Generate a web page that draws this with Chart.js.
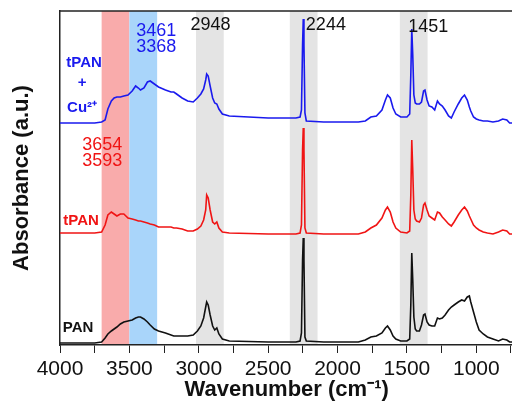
<!DOCTYPE html>
<html>
<head>
<title>FTIR PAN / tPAN / tPAN+Cu</title>
<script src="https://cdn.jsdelivr.net/npm/chart.js"></script>
<style>
html, body { margin: 0; padding: 0; background: #fff; overflow: hidden; }
</style>
</head>
<body>
<canvas id="ftir" width="515" height="405"></canvas>

<script>
// wavenumbers (cm-1), shared by the three spectra
var wavenumber = [4000, 3750, 3700, 3675, 3655, 3630, 3610, 3590, 3565, 3540,
  3510, 3480, 3455, 3435, 3420, 3395, 3370, 3350, 3320, 3290,
  3240, 3200, 3180, 3160, 3120, 3080, 3040, 3010, 2985, 2965,
  2950, 2943, 2932, 2918, 2900, 2885, 2870, 2855, 2830, 2780,
  2500, 2300, 2270, 2260, 2252, 2247, 2242, 2235, 2225, 2100,
  1850, 1800, 1760, 1720, 1680, 1655, 1640, 1620, 1600, 1580,
  1545, 1500, 1480, 1472, 1465, 1458, 1450, 1440, 1430, 1410,
  1395, 1380, 1370, 1355, 1340, 1320, 1300, 1280, 1265, 1245,
  1225, 1200, 1180, 1160, 1130, 1105, 1085, 1065, 1050, 1040,
  1020, 1000, 980, 950, 920, 880, 840, 810, 780, 760,
  733];

// absorbance (a.u., stacked with offsets as in the figure)
var tpanCu = [222, 222, 223, 225, 236, 244, 247, 248, 248, 249,
  250, 254, 259, 257, 255, 257, 263, 264, 261, 258,
  255, 253, 253, 251, 247, 244, 243, 247, 251, 256,
  265, 271, 269, 259, 247, 242, 241, 236, 231, 229,
  227, 227, 228, 235, 300, 326, 300, 232, 224, 223,
  223, 224, 228, 229, 235, 245, 250, 247, 237, 231,
  228, 228, 231, 270, 316, 290, 250, 242, 241, 241,
  243, 254, 255, 245, 239, 238, 235, 244, 241, 239,
  235, 229, 227, 233, 241, 247, 250, 245, 238, 234,
  228, 226, 225, 224, 224, 223, 224, 226, 225, 222,
  222];

var tpan = [112, 112, 113, 120, 130, 133, 131, 129, 131, 131,
  127, 126, 125, 124, 124, 123, 122, 121, 120, 118,
  118, 118, 117, 117, 116, 114, 114, 116, 119, 125,
  135, 150, 147, 135, 123, 121, 123, 117, 113, 112,
  111, 111, 112, 120, 195, 217, 195, 117, 112, 111,
  111, 113, 117, 120, 127, 135, 138, 133, 123, 117,
  113, 112, 114, 150, 205, 175, 135, 126, 124, 123,
  127, 140, 142, 135, 129, 127, 125, 133, 132, 128,
  125, 121, 119, 123, 130, 135, 138, 134, 129, 126,
  120, 117, 115, 113, 112, 111, 113, 115, 114, 111,
  111];

var pan = [2, 2, 3, 7, 11, 14, 16, 18, 21, 23,
  24, 25, 27, 28, 28, 26, 23, 20, 16, 14,
  12, 10, 9, 9, 9, 9, 10, 14, 19, 27,
  38, 43, 40, 30, 19, 15, 17, 11, 6, 4,
  3, 3, 4, 12, 85, 107, 85, 8, 4, 3,
  3, 5, 8, 9, 12, 17, 19, 15, 9, 6,
  4, 4, 6, 40, 92, 65, 28, 16, 14, 14,
  20, 30, 31, 23, 20, 19, 19, 27, 26, 27,
  30, 35, 38, 40, 43, 45, 44, 48, 49, 43,
  33, 23, 15, 11, 8, 6, 4, 6, 5, 3,
  3];

// x axis ticks: every 250, labelled every 500
var xTicks = [4000, 3750, 3500, 3250, 3000, 2750, 2500, 2250, 2000, 1750, 1500, 1250, 1000, 750];
var xTickLabels = ['4000', '', '3500', '', '3000', '', '2500', '', '2000', '', '1500', '', '1000', ''];

// highlighted regions (cm-1)
var bandFrom = [3700, 3500, 3020, 2344, 1551];
var bandTo   = [3500, 3300, 2820, 2144, 1351];
var bandColor = ['#f9abab', '#a9d5fa', '#e4e4e4', '#e4e4e4', '#e4e4e4'];

// annotation texts
var noteText = ['tPAN', '+', 'Cu\u00B2\u207A', '3461', '3368', '2948', '2244', '1451', '3654', '3593', 'tPAN', 'PAN'];

function pts(ys) {
  return wavenumber.map(function (w, i) { return { x: w, y: ys[i] }; });
}

var bandsPlugin = {
  id: 'bands',
  beforeDraw: function (chart) {
    var c = chart.ctx, a = chart.chartArea, xs = chart.scales.x;
    c.save();
    c.fillStyle = '#fff';
    c.fillRect(0, 0, chart.width, chart.height);
    for (var i = 0; i < bandFrom.length; i++) {
      var x1 = xs.getPixelForValue(bandFrom[i]);
      var x2 = xs.getPixelForValue(bandTo[i]);
      c.fillStyle = bandColor[i];
      c.fillRect(x1, a.top, x2 - x1, a.bottom - a.top);
    }
    c.restore();
  },
  afterDraw: function (chart) {
    var c = chart.ctx, a = chart.chartArea;
    c.save();
    c.strokeStyle = '#222';
    c.lineWidth = 1.5;
    c.beginPath();
    c.moveTo(a.left, a.top);
    c.lineTo(chart.width, a.top);
    c.stroke();
    c.restore();
  }
};

// where each note sits, in data units (wavenumber, absorbance)
var notePos = [[3826, 282], [3841, 262], [3841, 237], [3306, 314], [3306, 298],
  [2916, 320], [2084, 320], [1347, 318], [3696, 200], [3696, 184], [3848, 124], [3870, 17]];
var noteColor = ['#1a1aee', '#1a1aee', '#1a1aee', '#1a1aee', '#1a1aee',
  '#111', '#111', '#111', '#f01414', '#f01414', '#f01414', '#111'];
var noteFont = ['bold 15px Arial', 'bold 15px Arial', 'bold 15px Arial', '18px Arial', '18px Arial',
  '18px Arial', '18px Arial', '18px Arial', '18px Arial', '18px Arial', 'bold 15px Arial', 'bold 15px Arial'];

var notesPlugin = {
  id: 'notes',
  afterDatasetsDraw: function (chart) {
    var c = chart.ctx, xs = chart.scales.x, ys = chart.scales.y;
    c.save();
    c.textAlign = 'center';
    c.textBaseline = 'middle';
    for (var i = 0; i < noteText.length; i++) {
      c.font = noteFont[i];
      c.fillStyle = noteColor[i];
      c.fillText(noteText[i], xs.getPixelForValue(notePos[i][0]), ys.getPixelForValue(notePos[i][1]));
    }
    c.restore();
  }
};

var ctx = document.getElementById('ftir').getContext('2d');
var chart = new Chart(ctx, {
  type: 'line',
  data: {
    datasets: [
      { label: 'tPAN + Cu2+', data: pts(tpanCu), borderColor: '#1a1aee', borderWidth: 1.6 },
      { label: 'tPAN', data: pts(tpan), borderColor: '#f01414', borderWidth: 1.6 },
      { label: 'PAN', data: pts(pan), borderColor: '#111', borderWidth: 1.6 }
    ]
  },
  options: {
    responsive: false,
    animation: false,
    layout: { padding: { top: 11, right: 0, left: 0, bottom: 0 } },
    elements: { point: { radius: 0 }, line: { tension: 0, fill: false } },
    plugins: { legend: { display: false }, tooltip: { enabled: false } },
    scales: {
      x: {
        type: 'linear',
        reverse: true,
        min: 733,
        max: 4000,
        afterFit: function (s) { s.height = 60; },
        afterBuildTicks: function (s) {
          s.ticks = xTicks.map(function (v) { return { value: v }; });
        },
        border: { display: true, color: '#222', width: 1.5 },
        grid: { drawOnChartArea: false, drawTicks: true, tickLength: 8, color: '#222' },
        ticks: {
          autoSkip: false,
          maxRotation: 0,
          padding: 4,
          color: '#111',
          font: { family: 'Arial', size: 21 },
          callback: function (v, i) { return xTickLabels[i]; }
        },
        title: {
          display: true,
          text: 'Wavenumber (cm\u207B\u00B9)',
          color: '#111',
          font: { family: 'Arial', size: 22, weight: 'bold' },
          padding: { top: 0, bottom: 2 }
        }
      },
      y: {
        min: 0,
        max: 334,
        afterFit: function (s) { s.width = 60; },
        border: { display: true, color: '#222', width: 1.5 },
        grid: { display: false, drawTicks: false },
        ticks: { display: false },
        title: {
          display: true,
          text: 'Absorbance (a.u.)',
          color: '#111',
          font: { family: 'Arial', size: 22, weight: 'bold' },
          padding: { top: 9, bottom: 0 }
        }
      }
    }
  },
  plugins: [bandsPlugin, notesPlugin]
});
</script>
</body>
</html>
